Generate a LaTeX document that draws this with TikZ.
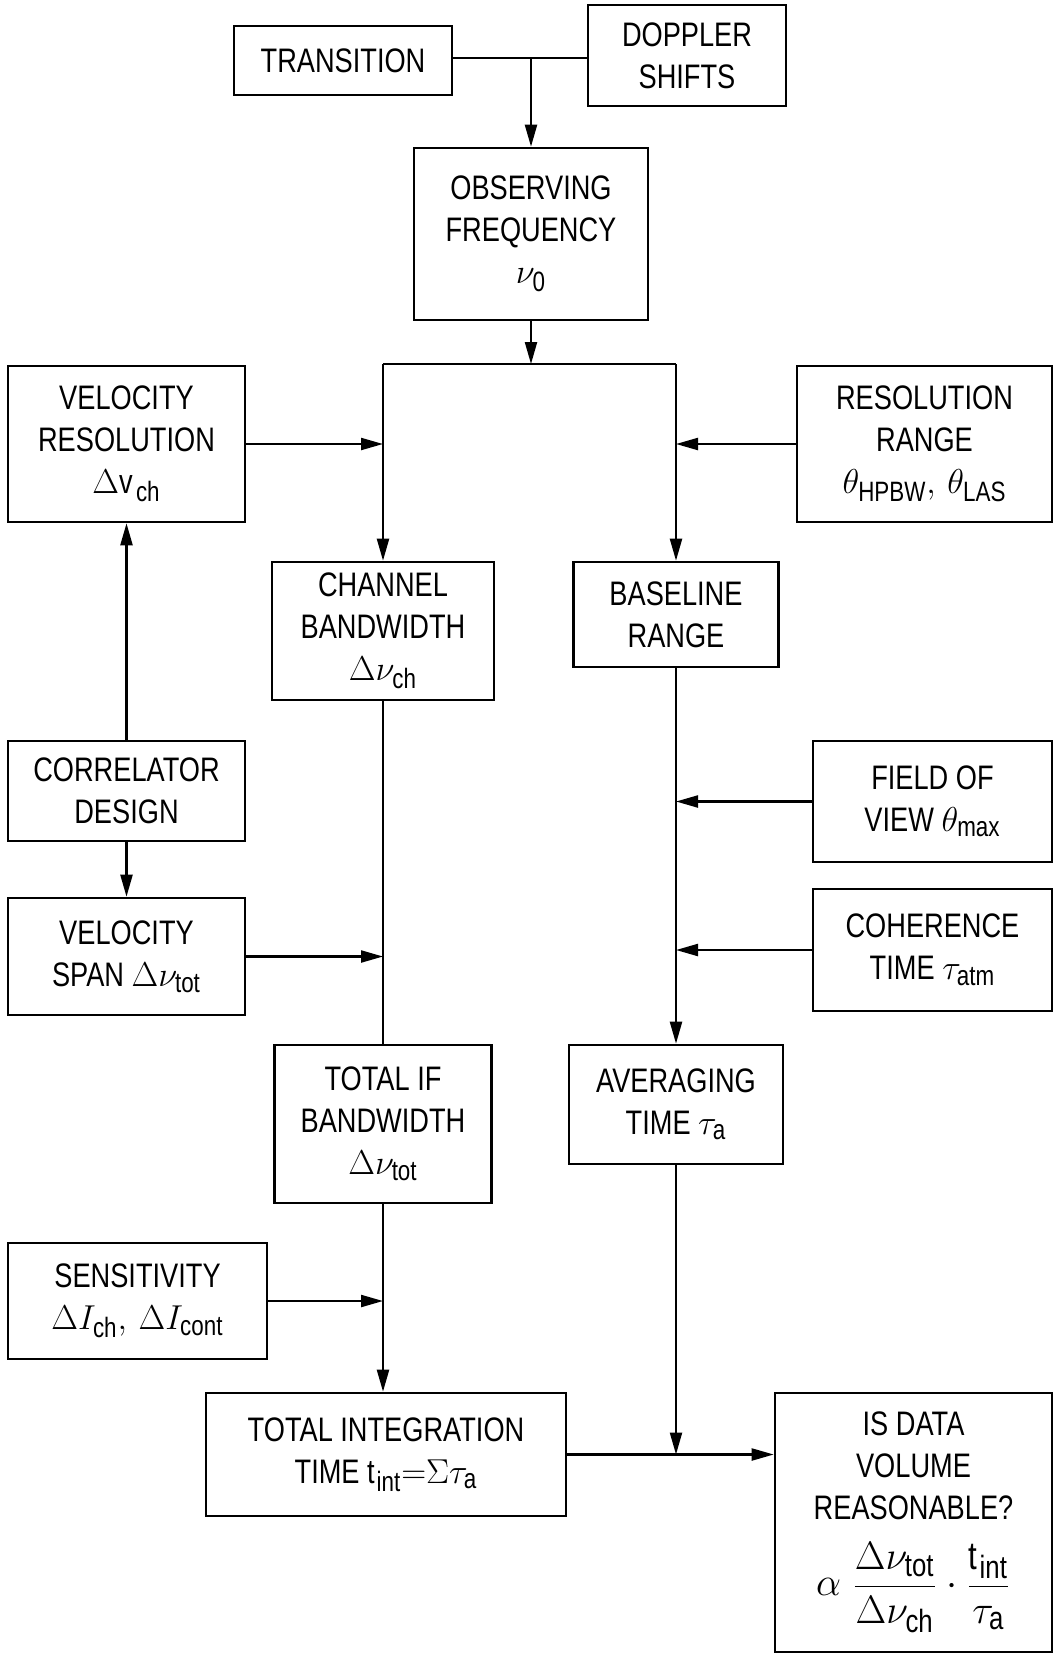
\documentclass[tikz,border=0pt]{standalone}
\usepackage{fontspec}
\setmainfont{Liberation Sans}[FakeStretch=0.8]
\usetikzlibrary{arrows.meta}
\newcommand{\sbx}[1]{_{\mbox{\fontsize{14}{14}\selectfont #1}}}
\tikzset{
  box/.style={draw, line width=1.3pt, align=center, inner sep=2pt,
              font=\fontsize{17}{21}\selectfont},
  arr/.style={-{Triangle[length=11pt,width=6pt]}, line width=1.1pt},
  ln/.style={line width=1.1pt}
}
\begin{document}
\begin{tikzpicture}[x=0.5pt,y=-0.5pt]
\fill[white] (0,0) rectangle (1054,1655);
\useasboundingbox (0,0) rectangle (1054,1655);

\node[box,minimum width=109pt,minimum height=34.5pt] (trans) at (343,60.5) {TRANSITION};
\node[box,minimum width=99pt,minimum height=50.5pt] (doppler) at (687,55.5) {DOPPLER\\SHIFTS};
\node[box,minimum width=117pt,minimum height=86pt] (obs) at (531,234) {OBSERVING\\FREQUENCY\\$\nu\sbx{0}$};
\node[box,minimum width=118.5pt,minimum height=78pt] (velres) at (126.5,444) {VELOCITY\\RESOLUTION\\$\Delta\mathrm{v}\sbx{ch}$};
\node[box,minimum width=127.5pt,minimum height=78pt] (resrange) at (924.5,444) {RESOLUTION\\RANGE\\$\theta\sbx{HPBW},\,\theta\sbx{LAS}$};
\node[box,minimum width=111pt,minimum height=69pt] (channel) at (383,631) {CHANNEL\\BANDWIDTH\\$\Delta\nu\sbx{ch}$};
\node[box,minimum width=102.5pt,minimum height=52.5pt] (baseline) at (676,614.5) {BASELINE\\RANGE};
\node[box,minimum width=118.5pt,minimum height=50pt] (corr) at (126.5,791) {CORRELATOR\\DESIGN};
\node[box,minimum width=118.5pt,minimum height=58.5pt] (velspan) at (126.5,956.5) {VELOCITY\\SPAN $\Delta\nu\sbx{tot}$};
\node[box,minimum width=119.5pt,minimum height=60.5pt] (fov) at (932.5,801.5) {FIELD OF\\VIEW $\theta\sbx{max}$};
\node[box,minimum width=119.5pt,minimum height=61pt] (coh) at (932.5,950) {COHERENCE\\TIME $\tau\sbx{atm}$};
\node[box,minimum width=108.5pt,minimum height=79pt] (totif) at (383,1124) {TOTAL IF\\BANDWIDTH\\$\Delta\nu\sbx{tot}$};
\node[box,minimum width=107pt,minimum height=59.5pt] (avg) at (676,1104.5) {AVERAGING\\TIME $\tau\sbx{a}$};
\node[box,minimum width=129.5pt,minimum height=58pt] (sens) at (137.5,1301) {SENSITIVITY\\$\Delta I\sbx{ch},\,\Delta I\sbx{cont}$};
\node[box,minimum width=180pt,minimum height=61.5pt] (totint) at (386,1454.5) {TOTAL INTEGRATION\\TIME $\mathrm{t}\sbx{int}{=}\Sigma\tau\sbx{a}$};
\node[box,minimum width=138.5pt,minimum height=129.5pt] (isdata) at (913.5,1522.5) {IS DATA\\VOLUME\\REASONABLE?\\[10pt]\scalebox{1.15}{$\displaystyle\alpha\;\frac{\Delta\nu\sbx{tot}}{\Delta\nu\sbx{ch}}\cdot\frac{\mathrm{t}\sbx{int}}{\tau\sbx{a}}$}};

\coordinate (J) at (531,58);
\coordinate (L0) at (383,364);
\coordinate (R0) at (676,364);
\coordinate (S0) at (531,364);

\draw[ln] (trans.east |- J) -- (doppler.west |- J);
\draw[arr] (J) -- (obs.north);
\draw[arr] (obs.south) -- (S0);
\draw[ln] (L0) -- (R0);
\draw[arr] (L0) -- (channel.north);
\draw[arr] (R0) -- (baseline.north);
\draw[arr] (velres.east) -- (velres.east -| L0);
\draw[arr] (resrange.west) -- (resrange.west -| R0);
\draw[arr] (corr.north) -- (velres.south);
\draw[arr] (corr.south) -- (velspan.north);
\draw[arr] (velspan.east) -- (velspan.east -| channel.south);
\draw[ln] (channel.south) -- (totif.north);
\draw[arr] (fov.west) -- (fov.west -| baseline.south);
\draw[arr] (coh.west) -- (coh.west -| baseline.south);
\draw[arr] (baseline.south) -- (avg.north);
\draw[arr] (sens.east) -- (sens.east -| totif.south);
\draw[arr] (totif.south) -- (totif.south |- totint.north);
\draw[arr] (totint.east) -- (totint.east -| isdata.west);
\draw[arr] (avg.south) -- (avg.south |- totint.east);
\end{tikzpicture}
\end{document}
